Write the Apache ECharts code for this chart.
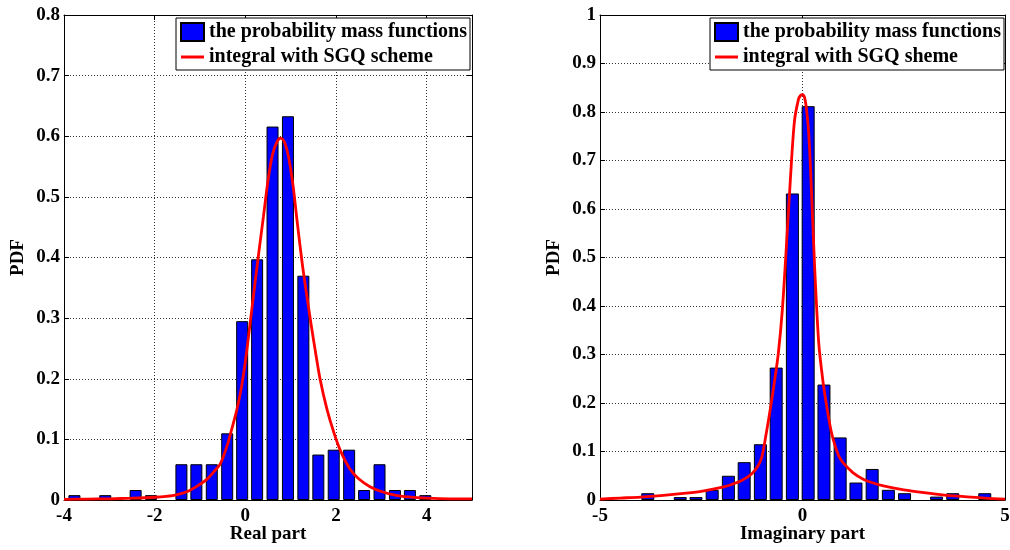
<!DOCTYPE html>
<html>
<head>
<meta charset="utf-8">
<title>PDF of real and imaginary parts</title>
<script src="https://cdn.jsdelivr.net/npm/echarts@6/dist/echarts.min.js"></script>
<style>
  html, body { margin: 0; padding: 0; background: #fff; }
  #chart { width: 1010px; height: 550px; }
</style>
</head>
<body>
<div id="chart"></div>
<script>
// Histogram (probability mass) of the real part: bin centres and heights
const realBinCenters = [-3.77, -3.09, -2.42, -2.08, -1.41, -1.08, -0.74, -0.40, -0.07, 0.26, 0.60, 0.94,
                        1.28, 1.61, 1.95, 2.29, 2.62, 2.96, 3.30, 3.63, 3.97];
const realPmf = [0.008, 0.008, 0.0165, 0.008, 0.059, 0.059, 0.059, 0.11, 0.295, 0.397, 0.616, 0.633,
                 0.370, 0.075, 0.083, 0.083, 0.0165, 0.059, 0.0165, 0.0165, 0.008];

// Density of the real part obtained with the SGQ integral
const realCurveX = [-4, -3.5, -3, -2.5, -2, -1.75, -1.5, -1.25, -1, -0.85, -0.7, -0.55, -0.4, -0.3, -0.2,
                    -0.1, 0, 0.1, 0.2, 0.3, 0.4, 0.5, 0.6, 0.7, 0.78, 0.86, 0.95, 1.05, 1.15, 1.25, 1.35,
                    1.45, 1.55, 1.65, 1.8, 1.95, 2.1, 2.3, 2.5, 2.75, 3, 3.3, 3.6, 4, 4.5, 5];
const realCurveY = [0.001, 0.0015, 0.002, 0.003, 0.0045, 0.006, 0.009, 0.015, 0.026, 0.034, 0.046, 0.060,
                    0.090, 0.117, 0.145, 0.180, 0.228, 0.288, 0.350, 0.410, 0.468, 0.527, 0.570, 0.591,
                    0.597, 0.591, 0.567, 0.520, 0.455, 0.393, 0.340, 0.290, 0.243, 0.199, 0.150, 0.112,
                    0.081, 0.052, 0.035, 0.022, 0.014, 0.008, 0.005, 0.003, 0.002, 0.002];

// Histogram of the imaginary part
const imagBinCenters = [-3.82, -3.02, -2.63, -2.23, -1.83, -1.44, -1.04, -0.65, -0.25, 0.14, 0.53, 0.93,
                        1.32, 1.72, 2.12, 2.52, 3.31, 3.71, 4.50];
const imagPmf = [0.014, 0.006, 0.006, 0.021, 0.050, 0.078, 0.115, 0.273, 0.632, 0.812, 0.238, 0.129,
                 0.036, 0.064, 0.021, 0.014, 0.007, 0.014, 0.014];

// Density of the imaginary part obtained with the SGQ integral
const imagCurveX = [-5, -4.5, -4, -3.5, -3, -2.5, -2, -1.75, -1.5, -1.25, -1.1, -1, -0.9, -0.8, -0.7, -0.6,
                    -0.5, -0.4, -0.3, -0.2, -0.1, -0.05, 0, 0.05, 0.1, 0.15, 0.2, 0.3, 0.4, 0.5, 0.6, 0.7,
                    0.8, 0.9, 1, 1.25, 1.5, 1.75, 2, 2.5, 3, 3.5, 4, 4.5, 5];
const imagCurveY = [0.002, 0.004, 0.006, 0.009, 0.013, 0.018, 0.026, 0.032, 0.040, 0.054, 0.070, 0.090,
                    0.135, 0.185, 0.240, 0.300, 0.390, 0.520, 0.660, 0.780, 0.826, 0.834, 0.836, 0.830,
                    0.805, 0.760, 0.680, 0.480, 0.325, 0.248, 0.192, 0.145, 0.113, 0.090, 0.077, 0.056,
                    0.043, 0.035, 0.029, 0.021, 0.015, 0.010, 0.007, 0.004, 0.002];

const barName = 'the probability mass functions';
const realLineName = 'integral with SGQ scheme';
const imagLineName = 'integral with SGQ sheme';

const FONT = 'Liberation Serif';
const zip = (xs, ys) => xs.map((x, i) => [x, ys[i]]);

const tickStyle = { color: '#000', fontFamily: FONT, fontWeight: 'bold', fontSize: 19 };
const nameStyle = { color: '#000', fontFamily: FONT, fontWeight: 'bold', fontSize: 19 };
const gridLine = { show: true, lineStyle: { color: '#333', width: 1, type: [1, 2] } };
const boxLine = { show: true, onZero: false, lineStyle: { color: '#000', width: 1 } };
const inTick = { show: true, inside: true, length: 5, lineStyle: { color: '#000' } };

function mainX(gridIndex, min, max, interval, name, showMax) {
  return {
    type: 'value', gridIndex, min, max, interval, position: 'bottom',
    name, nameLocation: 'middle', nameGap: 25, nameMoveOverlap: false, nameTextStyle: nameStyle,
    axisLine: boxLine, axisTick: inTick,
    axisLabel: Object.assign({ margin: 7, showMaxLabel: showMax }, tickStyle),
    splitLine: gridLine
  };
}
function mirrorX(gridIndex, min, max, interval) {
  return {
    type: 'value', gridIndex, min, max, interval, position: 'top',
    axisLine: boxLine, axisTick: inTick, axisLabel: { show: false }, splitLine: { show: false }
  };
}
function mainY(gridIndex, max, gap) {
  return {
    type: 'value', gridIndex, min: 0, max, interval: 0.1, position: 'left',
    name: 'PDF', nameLocation: 'middle', nameGap: gap, nameRotate: 90, nameMoveOverlap: false,
    nameTextStyle: nameStyle,
    axisLine: boxLine, axisTick: inTick,
    axisLabel: Object.assign({ margin: 4 }, tickStyle),
    splitLine: gridLine
  };
}
function mirrorY(gridIndex, max) {
  return {
    type: 'value', gridIndex, min: 0, max, interval: 0.1, position: 'right',
    axisLine: boxLine, axisTick: inTick, axisLabel: { show: false }, splitLine: { show: false }
  };
}

// Horizontal stroke used as the legend key of the density curves
const lineKey = 'path://M0,0H23V3H0Z';

function legend(left, lineName) {
  return {
    left, top: 18, orient: 'vertical',
    backgroundColor: '#fff', borderColor: '#000', borderWidth: 1, borderRadius: 0,
    padding: [4, 3, 3, 4], itemGap: 5, itemWidth: 23, itemHeight: 18,
    textStyle: { color: '#000', fontFamily: FONT, fontWeight: 'bold', fontSize: 20, lineHeight: 20 },
    data: [{ name: barName, icon: 'rect' }, { name: lineName, icon: lineKey }]
  };
}

const barStyle = { color: '#0000ff', borderColor: '#000', borderWidth: 1 };
const curveStyle = { color: '#ff0000', width: 2.8 };

const option = {
  animation: false,
  backgroundColor: '#fff',
  grid: [
    { left: 64, top: 15, width: 408, height: 485, show: false, outerBoundsMode: 'none', containLabel: false },
    { left: 600, top: 15, width: 405, height: 485, show: false, outerBoundsMode: 'none', containLabel: false }
  ],
  xAxis: [
    mainX(0, -4, 5, 2, 'Real part', false),
    mainX(1, -5, 5, 5, 'Imaginary part', true),
    mirrorX(0, -4, 5, 2),
    mirrorX(1, -5, 5, 5)
  ],
  yAxis: [
    mainY(0, 0.8, 36),
    mainY(1, 1, 36),
    mirrorY(0, 0.8),
    mirrorY(1, 1)
  ],
  legend: [legend(176, realLineName), legend(710, imagLineName)],
  series: [
    { name: barName, type: 'bar', xAxisIndex: 0, yAxisIndex: 0, barWidth: 12,
      itemStyle: barStyle, data: zip(realBinCenters, realPmf), z: 2 },
    { name: realLineName, type: 'line', xAxisIndex: 0, yAxisIndex: 0, symbol: 'none',
      smooth: 0.3, itemStyle: { color: '#ff0000' }, lineStyle: curveStyle,
      data: zip(realCurveX, realCurveY), z: 3 },
    { name: barName, type: 'bar', xAxisIndex: 1, yAxisIndex: 1, barWidth: 13,
      itemStyle: barStyle, data: zip(imagBinCenters, imagPmf), z: 2 },
    { name: imagLineName, type: 'line', xAxisIndex: 1, yAxisIndex: 1, symbol: 'none',
      smooth: 0.3, itemStyle: { color: '#ff0000' }, lineStyle: curveStyle,
      data: zip(imagCurveX, imagCurveY), z: 3 }
  ]
};

const chart = echarts.init(document.getElementById('chart'), null, { renderer: 'canvas' });
chart.setOption(option);
</script>
</body>
</html>
